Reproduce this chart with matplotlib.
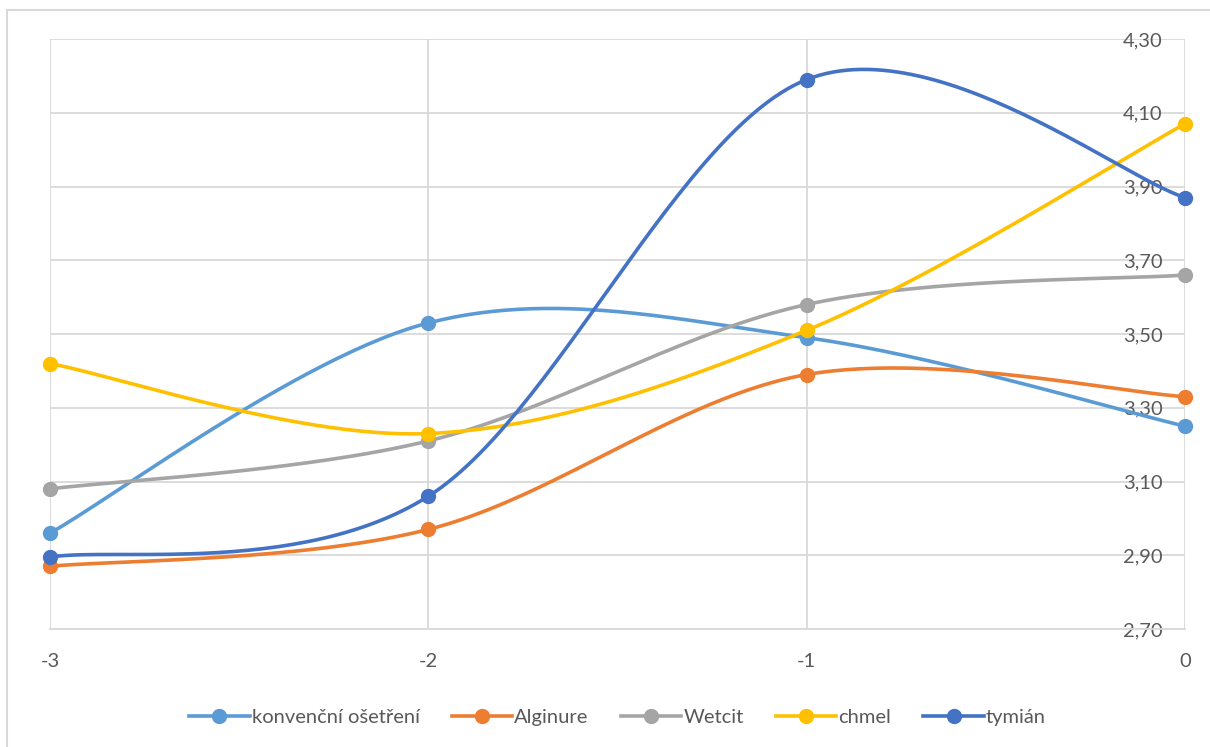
import numpy as np
import matplotlib.pyplot as plt
from matplotlib.patches import Rectangle

# data
x_vals = [-3, -2, -1, 0]
konvencni = [2.96, 3.53, 3.49, 3.25]
alginure = [2.87, 2.97, 3.39, 3.33]
wetcit = [3.08, 3.21, 3.58, 3.66]
chmel = [3.42, 3.23, 3.51, 4.07]
tymian = [2.895, 3.06, 4.19, 3.87]

series_names = ['konvenční ošetření', 'Alginure', 'Wetcit', 'chmel', 'tymián']
series_values = [konvencni, alginure, wetcit, chmel, tymian]
colors = ['#5B9BD5', '#ED7D31', '#A5A5A5', '#FFC000', '#4472C4']

y_ticks = [2.7, 2.9, 3.1, 3.3, 3.5, 3.7, 3.9, 4.1, 4.3]


# Excel-like smoothed line (Catmull-Rom -> cubic Bezier)
def smooth(xs, ys, n=60):
    p = np.column_stack([xs, ys]).astype(float)
    ext = np.vstack([p[0], p, p[-1]])
    out = []
    for i in range(len(p) - 1):
        p0, p1, p2, p3 = ext[i], ext[i + 1], ext[i + 2], ext[i + 3]
        c1 = p1 + (p2 - p0) / 6
        c2 = p2 - (p3 - p1) / 6
        t = np.linspace(0, 1, n)[:, None]
        seg = ((1 - t) ** 3) * p1 + 3 * ((1 - t) ** 2) * t * c1 + 3 * (1 - t) * t ** 2 * c2 + t ** 3 * p2
        out.append(seg if i == 0 else seg[1:])
    out = np.vstack(out)
    return out[:, 0], out[:, 1]


plt.rcParams['font.family'] = ['Lato', 'DejaVu Sans']

fig = plt.figure(figsize=(12.1, 7.47), dpi=100)
ax = fig.add_axes([50 / 1210, 1 - 629 / 747, 1135 / 1210, 590 / 747])

for name, vals, col in zip(series_names, series_values, colors):
    sx, sy = smooth(x_vals, vals)
    ax.plot(sx, sy, color=col, lw=2.6, solid_capstyle='round', zorder=3, clip_on=False)
    ax.plot(x_vals, vals, 'o', color=col, ms=10, zorder=4, clip_on=False)
    ax.plot([], [], color=col, lw=2.6, marker='o', ms=10, label=name)

ax.set_xlim(-3, 0)
ax.set_ylim(2.7, 4.3)
ax.set_xticks(x_vals)
ax.set_xticklabels([str(v) for v in x_vals])
ax.set_yticks(y_ticks)
ax.set_yticklabels([f'{v:.2f}'.replace('.', ',') for v in y_ticks])

ax.grid(True, color='#D9D9D9', lw=1.3)
ax.set_axisbelow(True)
for s in ['top', 'left', 'right']:
    ax.spines[s].set_visible(False)
ax.spines['bottom'].set_color('#D9D9D9')
ax.spines['bottom'].set_linewidth(1.3)

ax.yaxis.tick_right()
ax.tick_params(axis='both', length=0, labelsize=14.5, labelcolor='#595959')
ax.tick_params(axis='x', pad=17)
ax.tick_params(axis='y', pad=-16)
for t in ax.yaxis.get_major_ticks():
    t.label2.set_horizontalalignment('right')

ax.legend(loc='upper center', bbox_to_anchor=(0.5, -0.105), ncol=5, frameon=False,
          fontsize=14.5, labelcolor='#595959', handlelength=3.0, handletextpad=0.1,
          columnspacing=1.6)

# chart border
fig.patches.append(Rectangle((7 / 1210, -0.01), 1.02, 1 - 10 / 747 + 0.01,
                             transform=fig.transFigure, fill=False,
                             edgecolor='#D9D9D9', lw=1.5))

fig.savefig('out.png', dpi=100)
